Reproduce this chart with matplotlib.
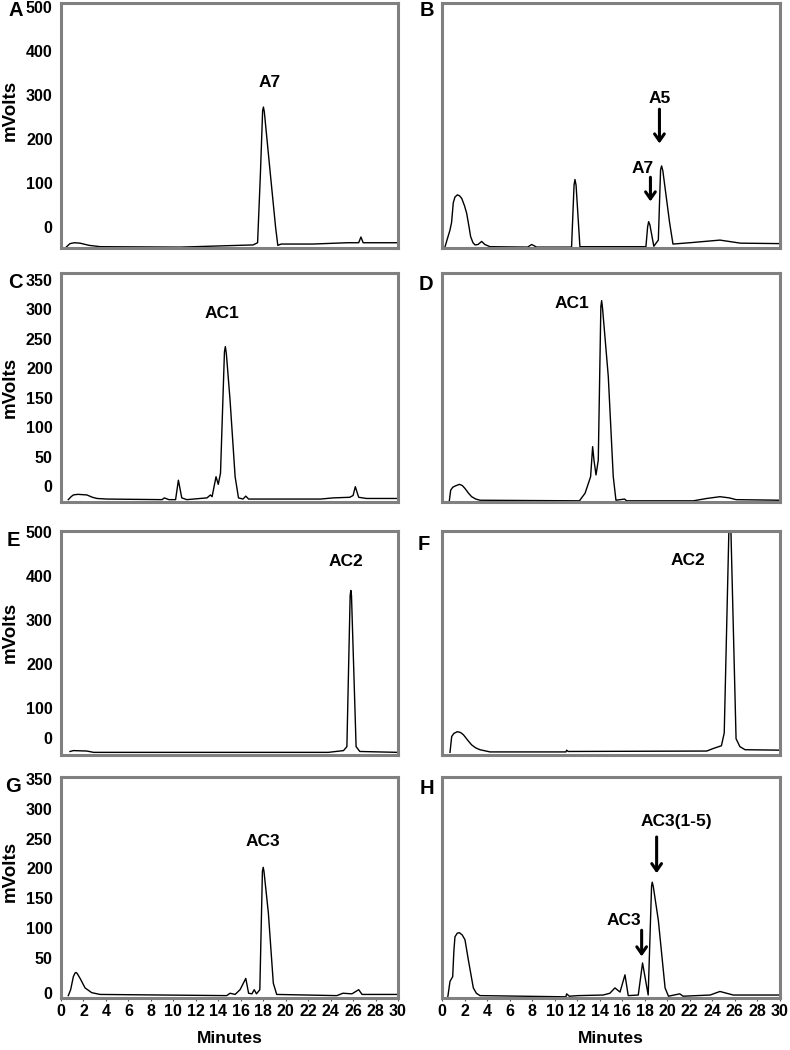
import numpy as np
import matplotlib.pyplot as plt

plt.rcParams['font.family'] = ['Liberation Sans', 'DejaVu Sans']
plt.rcParams['font.weight'] = 'bold'

# Retention time (min) / detector signal (mV)
a_t = [0.5, 0.8, 1.2, 1.7, 2.5, 3.5, 10.6, 17.1, 17.5, 17.75, 17.95, 18.02, 18.1, 18.6, 19.1, 19.3,
       19.6, 22.4, 25.5, 26.5, 26.7, 26.9, 30.0]
a_v = [-45, -38, -36, -37, -42, -45, -46, -41, -36, 120, 265, 273, 262, 130, 0, -42,
       -39, -39, -36, -36, -23, -36, -36]

b_t = [0.27, 0.5, 0.7, 0.85, 1.0, 1.15, 1.36, 1.55, 1.75, 2.0, 2.19, 2.4, 2.54, 2.75, 2.93, 3.2,
       3.52, 3.8, 4.26, 7.6, 7.96, 8.4, 11.5, 11.72, 11.8, 11.9, 12.24, 18.1, 18.25, 18.34, 18.45,
       18.8, 19.2, 19.4, 19.49, 19.6, 20.2, 20.5, 22.0, 24.67, 26.5, 30.0]
b_v = [-45, -25, -8, 10, 55, 68, 73, 71, 65, 48, 31, 0, -22, -36, -41, -40,
       -33, -40, -45, -46, -40, -46, -46, 95, 108, 95, -45, -45, 0, 12, 5,
       -44, -30, 130, 139, 128, 10, -39, -36, -30, -37, -38]

c_t = [0.65, 0.9, 1.1, 1.5, 2.3, 2.8, 3.2, 4.07, 9.0, 9.2, 9.6, 10.2, 10.45, 10.75, 11.2, 13.0,
       13.3, 13.45, 13.8, 14.0, 14.2, 14.55, 14.63, 14.72, 15.05, 15.5, 15.8, 16.2, 16.45, 16.7,
       23.1, 24.25, 25.7, 26.0, 26.2, 26.5, 27.2, 30.0]
c_v = [-23, -18, -15, -14, -15, -19, -21, -22, -23, -20, -23, -23, 10, -20, -23, -20,
       -15, -18, 16, 3, 22, 228, 237, 225, 146, 16, -20, -22, -17, -22,
       -22, -20, -19, -16, -1, -19, -21, -21]

d_t = [0.65, 0.77, 0.95, 1.15, 1.54, 1.8, 2.04, 2.35, 2.63, 3.0, 3.37, 12.2, 12.7, 13.19, 13.37,
       13.49, 13.67, 13.87, 14.1, 14.17, 14.25, 14.76, 15.2, 15.44, 16.2, 16.4, 22.3, 23.5, 24.67,
       25.5, 26.1, 30.0]
d_v = [-25, -7, -2, 0, 3, 1, -4, -12, -18, -22, -24, -25, -12, 16, 67,
       44, 19, 44, 305, 315, 302, 186, 16, -24, -22, -25, -25, -21, -18,
       -20, -23, -24]

e_t = [0.8, 1.1, 2.3, 2.9, 23.8, 25.15, 25.45, 25.74, 25.8, 25.86, 26.27, 26.6, 30.0]
e_v = [1, 3, 2, -1, -1, 3, 12, 355, 367, 355, 12, 1, -1]

f_t = [0.71, 0.86, 1.05, 1.36, 1.65, 1.9, 2.3, 2.63, 3.0, 3.37, 4.26, 11.0, 11.06, 11.2, 23.5,
       24.1, 24.8, 25.05, 25.55, 26.1, 26.44, 26.9, 30.0]
f_v = [-1, 35, 42, 46, 44, 39, 26, 16, 9, 5, 0, 0, 4, 1, 2,
       8, 14, 43, 600, 30, 12, 5, 4]

g_t = [0.65, 0.86, 1.1, 1.25, 1.34, 1.45, 1.7, 2.14, 2.73, 3.47, 14.75, 15.05, 15.5, 15.94,
       16.45, 16.7, 17.0, 17.2, 17.4, 17.7, 17.93, 18.0, 18.07, 18.46, 18.9, 19.2, 24.55, 25.1,
       25.9, 26.5, 26.8, 30.0]
g_v = [-14, -4, 18, 24, 25, 23, 15, -1, -9, -12, -14, -10, -12, -4,
       15, -10, -11, -4, -11, -4, 195, 202, 195, 125, 7, -12, -14, -10,
       -11, -4, -12, -12]

h_t = [0.5, 0.71, 0.95, 1.05, 1.15, 1.35, 1.54, 1.8, 2.04, 2.34, 2.78, 3.05, 3.37, 11.0, 11.06,
       11.3, 12.1, 14.3, 14.9, 15.35, 15.8, 16.24, 16.53, 17.42, 17.8, 18.3, 18.6, 18.66, 18.75,
       19.2, 19.8, 20.1, 21.1, 21.4, 23.8, 24.67, 25.85, 30.0]
h_v = [-18, 10, 18, 60, 85, 91, 92, 88, 80, 46, -1, -10, -14, -16, -11,
       -15, -14, -13, -10, -1, -8, 21, -14, -13, 41, -13, 170, 177, 170,
       113, -1, -15, -11, -15, -13, -7, -13, -13]

minute_ticks = list(range(0, 31, 2))

# left-axis tick labels as printed on the figure (the "0" labels sit off the true zero)
ticks_500 = [0, 100, 200, 300, 400, 500]
labels_500 = ['0', '100', '200', '300', '400', '500']
ticks_350 = [0, 50, 100, 150, 200, 250, 300, 350]
labels_350 = ['0', '50', '100', '150', '200', '250', '300', '350']
zero_pos_e = 32
zero_pos_g = -9

W, H = 790, 1050
fig = plt.figure(figsize=(W / 100, H / 100), dpi=100)


def px_axes(left, top, right, bottom):
    return fig.add_axes([left / W, 1 - bottom / H, (right - left) / W, (bottom - top) / H])


rows = [(3, 248), (273, 502), (531, 755), (777, 998)]
cols = [(61, 398), (442, 780)]
ylims = [(-48, 510), (-27, 362), (-7, 502), (-18, 354)]

traces = [[(a_t, a_v), (b_t, b_v)],
          [(c_t, c_v), (d_t, d_v)],
          [(e_t, e_v), (f_t, f_v)],
          [(g_t, g_v), (h_t, h_v)]]

axes = []
for r, (top, bottom) in enumerate(rows):
    row_axes = []
    for c, (left, right) in enumerate(cols):
        ax = px_axes(left, top, right, bottom)
        t, v = traces[r][c]
        ax.plot(t, v, color='black', lw=1.0)
        ax.set_xlim(0, 30)
        ax.set_ylim(*ylims[r])
        for sp in ax.spines.values():
            sp.set_color('#808080')
            sp.set_linewidth(2.2)
        ax.set_xticks(minute_ticks)
        ax.tick_params(axis='x', length=2, width=0.8, color='#555555', pad=2, labelsize=11.5)
        ax.tick_params(axis='y', length=0, pad=6, labelsize=11.5)
        if r < 3:
            ax.set_xticklabels([])
            ax.tick_params(axis='x', length=0)
        else:
            ax.set_xlabel('Minutes', fontsize=12.5, fontweight='bold', labelpad=9)
        if c == 1:
            ax.set_yticks([])
        row_axes.append(ax)
    axes.append(row_axes)

axes[0][0].set_yticks(ticks_500, labels_500)
axes[1][0].set_yticks(ticks_350, labels_350)
axes[2][0].set_yticks([zero_pos_e] + ticks_500[1:], labels_500)
axes[3][0].set_yticks([zero_pos_g] + ticks_350[1:], labels_350)
for r in range(4):
    for lab in axes[r][0].get_yticklabels():
        lab.set_fontweight('bold')
for ax in axes[3]:
    for lab in ax.get_xticklabels():
        lab.set_fontweight('bold')

# panel letters
letters = [('A', 16, 11), ('B', 427, 11), ('C', 15, 283), ('D', 426, 284),
           ('E', 13, 540), ('F', 424, 544), ('G', 13, 786), ('H', 427, 788)]
for txt, x, y in letters:
    fig.text(x / W, 1 - y / H, txt, fontsize=14.5, fontweight='bold', ha='center', va='center')

for y in [110, 387, 632, 871]:
    fig.text(10 / W, 1 - y / H, 'mVolts', fontsize=13.5, fontweight='bold', rotation=90,
             ha='center', va='center')

lab_kw = dict(fontsize=12.5, fontweight='bold', ha='center', va='center')
arrow_kw = dict(arrowstyle='->,head_length=0.5,head_width=0.35', lw=2.2, color='black',
                shrinkA=0, shrinkB=0)

axes[0][0].text(18.6, 330, 'A7', **lab_kw)
axes[0][1].text(19.3, 293, 'A5', **lab_kw)
axes[0][1].annotate('', xy=(19.3, 190), xytext=(19.3, 268), arrowprops=arrow_kw)
axes[0][1].text(17.8, 134, 'A7', **lab_kw)
axes[0][1].annotate('', xy=(18.5, 58), xytext=(18.5, 113), arrowprops=arrow_kw)

axes[1][0].text(14.3, 294, 'AC1', **lab_kw)
axes[1][1].text(11.5, 311, 'AC1', **lab_kw)

axes[2][0].text(25.4, 432, 'AC2', **lab_kw)
axes[2][1].text(21.85, 436, 'AC2', **lab_kw)

axes[3][0].text(18.0, 245, 'AC3', **lab_kw)
axes[3][1].text(20.8, 279, 'AC3(1-5)', **lab_kw)
axes[3][1].annotate('', xy=(19.05, 192), xytext=(19.05, 253), arrowprops=arrow_kw)
axes[3][1].text(16.1, 113, 'AC3', **lab_kw)
axes[3][1].annotate('', xy=(17.72, 52), xytext=(17.72, 96), arrowprops=arrow_kw)

fig.savefig('out.png', dpi=100)
